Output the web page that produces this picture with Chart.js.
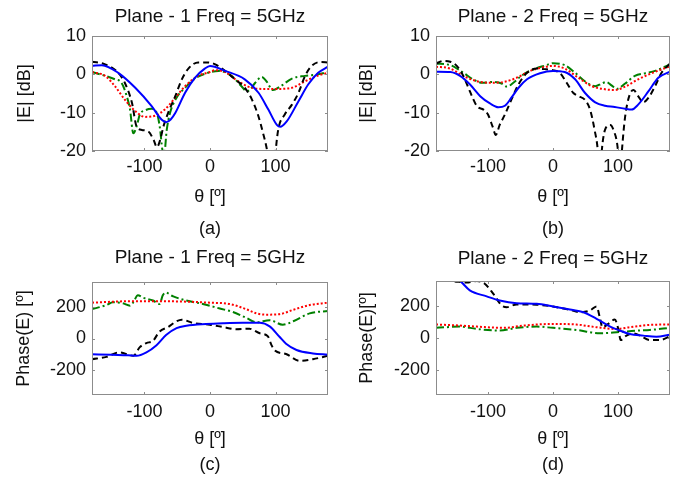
<!DOCTYPE html>
<html>
<head>
<meta charset="utf-8">
<title>Plane 1 / Plane 2 - 5GHz</title>
<script src="https://cdn.jsdelivr.net/npm/chart.js@4.4.1/dist/chart.umd.min.js"></script>
<style>
    body { margin: 0; background: #fff; width: 679px; height: 481px; position: relative; overflow: hidden; }
    canvas { position: absolute; }
</style>
</head>
<body>
<canvas id="chartA" width="340" height="240" style="left:0;top:0"></canvas>
<canvas id="chartB" width="339" height="240" style="left:340px;top:0"></canvas>
<canvas id="chartC" width="340" height="241" style="left:0;top:240px"></canvas>
<canvas id="chartD" width="339" height="241" style="left:340px;top:240px"></canvas>
<script>
// axis ticks
const thetaTicks = [-100, 0, 100];
const magTicks = [-20, -10, 0, 10];
const phaseTicks = [-200, 0, 200];

// (a) |E| plane 1
const aBlueT = [-180,-165,-140,-114,-89,-74,-67,-60,-53,-38,-23,-8,0,23,53,74,89,102,107,117,135,150,165,180];
const aBlueV = [2.2,2.4,0.4,-3.5,-8.3,-11.8,-12.5,-11.8,-10.1,-4.8,-0.9,1.5,2.2,0.9,-1.3,-4.8,-9.2,-13.2,-13.7,-12.3,-7,-2.6,0.4,2.0];
const aBlackT = [-180,-160,-140,-130,-119,-112,-104,-94,-86,-81,-76,-71,-64,-53,-43,-33,-18,-3,8,23,38,53,64,74,81,86,91,95,99,104,114,125,135,145,155,168,180];
const aBlackV = [3.3,2.6,0.4,-2.2,-7.5,-13.6,-14.5,-14.9,-17.1,-19,-17.1,-13.6,-10.1,-5.7,-1.3,1.5,3.1,3.1,2.6,0.9,-1.3,-3.5,-6.6,-11,-15.4,-18.9,-24,-30,-22,-14.5,-10.5,-7.9,-4.8,-0.4,2.2,3.2,3.1];
const aRedT = [-180,-160,-145,-130,-114,-99,-84,-69,-53,-38,-18,0,8,23,43,58,79,104,125,145,165,180];
const aRedV = [0.6,-0.4,-3.1,-6.6,-9.6,-11.1,-10.8,-9.2,-6.1,-3.1,-0.4,0.6,1.1,0.6,-1.8,-3.2,-3.8,-3.8,-3.5,-1.8,-0.3,0.4];
const aGreenT = [-180,-160,-145,-135,-127,-122,-117,-112,-107,-99,-89,-81,-76,-73,-70,-66,-61,-51,-38,-23,-3,13,33,48,56,61,69,79,86,96,107,125,145,165,180];
const aGreenV = [0.6,-0.4,-1.3,-2.2,-5.7,-9.2,-15.4,-13.6,-10.5,-9.4,-9,-10.1,-14.5,-19.3,-21,-14.5,-10.1,-6.1,-3.5,-1.1,0.4,0.9,-0.4,-3.1,-4.4,-4,-2.2,-0.7,-1.8,-4.1,-3.2,-1.1,-0.4,0,0.6];

// (b) |E| plane 2
const bBlueT = [-180,-158,-143,-128,-112,-97,-84,-74,-64,-53,-40,-20,0,18,34,49,65,80,95,111,121,131,147,162,180];
const bBlueV = [0.7,0.6,-0.4,-2.6,-5.7,-7.6,-8.6,-8.2,-6.1,-3.5,-1.3,0.3,0.9,0.6,-1.3,-4.8,-7.3,-8.2,-8.5,-9,-9.2,-7.9,-4.4,-0.9,0.7];
const bBlackT = [-180,-169,-158,-148,-138,-128,-117,-107,-100,-93,-88,-82,-74,-64,-53,-40,-25,-10,0,11,21,31,39,49,57,64,69,72,75,80,88,93,100,103,106,111,118,124,131,139,147,157,167,180];
const bBlackV = [2.8,3.5,3.3,2.2,-0.4,-4.4,-8.3,-9.2,-10.5,-13.6,-15.8,-13.2,-10.5,-6.6,-2.6,0.4,1.5,1.3,1.1,0.3,-2.2,-4.8,-5.7,-6.6,-9.2,-14.5,-20,-28,-20,-14.5,-13.2,-14.5,-20,-28,-20,-11,-5.3,-4.1,-5.7,-7.3,-6.1,-3.1,0.4,2.8];
const bRedT = [-180,-158,-138,-117,-97,-76,-56,-35,-10,0,18,39,60,80,95,111,131,152,180];
const bRedV = [2,1.5,-0.4,-1.8,-2.2,-2,-0.9,0.9,2,2.2,1.5,-0.9,-3.1,-3.9,-4.1,-3.2,-1.3,0.3,2.1];
const bGreenT = [-180,-158,-138,-123,-109,-94,-79,-71,-61,-48,-33,-10,0,18,34,49,65,75,82,90,98,111,126,142,157,180];
const bGreenV = [2.8,2.4,0.4,-1.3,-2.2,-2,-2.4,-3.2,-2.2,-0.3,1.1,2.4,2.9,2.4,0.4,-1.8,-3.1,-2.4,-2,-2.9,-3.8,-2.4,-0.4,0.3,0.9,2.6];

// (c) phase plane 1
const cBlueT = [-180,-150,-125,-112,-97,-82,-67,-51,-36,-6,20,50,76,91,106,116,132,157,180];
const cBlueV = [-100,-104,-107,-110,-88,-44,22,66,81,92,97,100,100,77,11,-33,-73,-95,-103];
const cBlackT = [-180,-158,-138,-128,-117,-107,-97,-87,-77,-64,-51,-43,-26,0,20,40,60,76,88,94,99,116,137,157,180];
const cBlackV = [-132,-117,-88,-99,-110,-55,-29,-15,44,73,110,120,99,88,73,59,62,33,15,-44,-77,-99,-143,-132,-110];
const cRedT = [-180,-150,-120,-90,-60,-30,0,30,55,71,86,106,127,152,180];
const cRedV = [228,234,238,238,237,234,228,220,187,160,152,155,183,213,228];
const cGreenT = [-180,-158,-148,-133,-122,-117,-110,-102,-87,-77,-72,-68,-56,-36,-11,15,35,55,71,91,111,127,152,180];
const cGreenV = [187,213,231,224,209,231,275,260,242,220,275,293,268,242,220,191,169,132,103,117,88,110,160,176];

// (d) phase plane 2
const dBlueT = [-180,-160,-143,-128,-102,-82,-56,-25,0,26,47,67,88,103,118,139,159,180];
const dBlueV = [430,395,360,301,263,237,220,216,199,180,163,121,72,47,25,15,8,21];
const dBlackT = [-180,-165,-158,-145,-133,-117,-105,-92,-79,-71,-56,-25,0,26,42,57,67,72,76,85,95,101,104,113,123,134,149,164,180];
const dBlackV = [400,375,360,355,350,360,343,280,206,195,212,210,199,178,163,174,199,131,68,89,117,47,-13,15,29,15,-13,-13,10];
const dRedT = [-180,-150,-117,-76,-46,0,36,67,98,118,149,180];
const dRedV = [85,80,72,64,78,89,85,68,57,68,83,85];
const dGreenT = [-180,-143,-117,-82,-56,-25,0,36,72,98,129,149,180];
const dGreenV = [64,72,57,47,64,72,64,51,30,36,47,51,64];

Chart.defaults.font.family = "'Liberation Sans', Arial, sans-serif";
Chart.defaults.color = '#111';

// blue solid, black dashed, red dotted, green dash-dot
const lineStyles = [
    { color: '#0000ff', dash: [] },
    { color: '#000000', dash: [6, 4] },
    { color: '#ff0000', dash: [2, 2] },
    { color: '#008000', dash: [8, 3, 2, 3] }
];

function toPoints(thetas, values) {
    return thetas.map((t, i) => ({ x: t, y: values[i] }));
}

// grey box round the plot with small inward tick marks
const boxPlugin = {
    id: 'plotBox',
    afterDatasetsDraw(chart) {
        const { ctx, chartArea: a, scales } = chart;
        ctx.save();
        ctx.strokeStyle = '#8c8c8c';
        ctx.lineWidth = 1;
        ctx.strokeRect(a.left + 0.5, a.top + 0.5, a.right - a.left - 1, a.bottom - a.top - 1);
        ctx.beginPath();
        scales.x.ticks.forEach(t => {
            const px = Math.round(scales.x.getPixelForValue(t.value)) + 0.5;
            ctx.moveTo(px, a.bottom); ctx.lineTo(px, a.bottom - 3);
            ctx.moveTo(px, a.top); ctx.lineTo(px, a.top + 3);
        });
        scales.y.ticks.forEach(t => {
            const py = Math.round(scales.y.getPixelForValue(t.value)) + 0.5;
            ctx.moveTo(a.left, py); ctx.lineTo(a.left + 3, py);
            ctx.moveTo(a.right, py); ctx.lineTo(a.right - 3, py);
        });
        ctx.stroke();
        ctx.restore();
    }
};

function makeChart(id, cfg) {
    const ctx = document.getElementById(id).getContext('2d');
    const datasets = cfg.series.map((s, i) => ({
        data: toPoints(s[0], s[1]),
        borderColor: lineStyles[i].color,
        borderDash: lineStyles[i].dash,
        borderWidth: 2,
        pointRadius: 0,
        cubicInterpolationMode: 'monotone',
        tension: 0.4,
        fill: false
    }));

    return new Chart(ctx, {
        type: 'line',
        data: { datasets: datasets },
        options: {
            responsive: false,
            animation: false,
            layout: { padding: { left: 0, top: 0, bottom: 0, right: cfg.padRight } },
            plugins: { legend: { display: false }, tooltip: { enabled: false } },
            scales: {
                x: {
                    type: 'linear',
                    position: 'bottom',
                    min: -180,
                    max: 180,
                    afterBuildTicks: s => { s.ticks = thetaTicks.map(v => ({ value: v })); },
                    afterFit: s => { s.height = cfg.xHeight; },
                    grid: { display: false, drawTicks: false },
                    border: { display: false },
                    ticks: { font: { size: 18 }, padding: cfg.xTickPad, maxRotation: 0, callback: v => String(v) },
                    title: {
                        display: true,
                        text: ['θ [º]', cfg.caption],
                        font: { size: 18, lineHeight: cfg.captionGap + 'px' },
                        padding: { top: 0, bottom: cfg.xTitlePad }
                    }
                },
                y: {
                    type: 'linear',
                    position: 'left',
                    min: cfg.yRange[0],
                    max: cfg.yRange[1],
                    afterBuildTicks: s => { s.ticks = cfg.yTicks.map(v => ({ value: v })); },
                    afterFit: s => { s.width = cfg.left; },
                    grid: { display: false, drawTicks: false },
                    border: { display: false },
                    ticks: { font: { size: 18 }, padding: 6, callback: v => String(v) },
                    title: {
                        display: true,
                        text: cfg.yLabel,
                        font: { size: 18 },
                        padding: { top: cfg.yTitlePad, bottom: 0 }
                    }
                },
                // top axis only carries the plot title, centred over the plot
                head: {
                    type: 'linear',
                    position: 'top',
                    min: -180,
                    max: 180,
                    afterFit: s => { s.height = cfg.top; },
                    grid: { display: false, drawTicks: false },
                    border: { display: false },
                    ticks: { display: false },
                    title: {
                        display: true,
                        text: cfg.title,
                        font: { size: 19 },
                        padding: { top: cfg.titlePad, bottom: 0 }
                    }
                }
            }
        },
        plugins: [boxPlugin]
    });
}

makeChart('chartA', {
    title: 'Plane - 1 Freq = 5GHz', yLabel: '|E| [dB]', caption: '(a)',
    yRange: [-20, 10], yTicks: magTicks,
    left: 92, padRight: 12, top: 36, titlePad: 5.6,
    xHeight: 89, xTickPad: 5, captionGap: 32, xTitlePad: -5, yTitlePad: 14.2,
    series: [[aBlueT, aBlueV], [aBlackT, aBlackV], [aRedT, aRedV], [aGreenT, aGreenV]]
});

makeChart('chartB', {
    title: 'Plane - 2 Freq = 5GHz', yLabel: '|E| [dB]', caption: '(b)',
    yRange: [-20, 10], yTicks: magTicks,
    left: 96, padRight: 9, top: 36, titlePad: 5.6,
    xHeight: 89, xTickPad: 5, captionGap: 32, xTitlePad: -5, yTitlePad: 15.9,
    series: [[bBlueT, bBlueV], [bBlackT, bBlackV], [bRedT, bRedV], [bGreenT, bGreenV]]
});

makeChart('chartC', {
    title: 'Plane - 1 Freq = 5GHz', yLabel: 'Phase(E) [º]', caption: '(c)',
    yRange: [-360, 360], yTicks: phaseTicks,
    left: 92, padRight: 12, top: 42, titlePad: 6.6,
    xHeight: 86, xTickPad: 6.5, captionGap: 26, xTitlePad: 2.5, yTitlePad: 13.2,
    series: [[cBlueT, cBlueV], [cBlackT, cBlackV], [cRedT, cRedV], [cGreenT, cGreenV]]
});

makeChart('chartD', {
    title: 'Plane - 2 Freq = 5GHz', yLabel: 'Phase(E)[º]', caption: '(d)',
    yRange: [-360, 360], yTicks: phaseTicks,
    left: 96, padRight: 9, top: 41, titlePad: 7.6,
    xHeight: 86, xTickPad: 6.5, captionGap: 26, xTitlePad: 2.5, yTitlePad: 15.9,
    series: [[dBlueT, dBlueV], [dBlackT, dBlackV], [dRedT, dRedV], [dGreenT, dGreenV]]
});
</script>
</body>
</html>
